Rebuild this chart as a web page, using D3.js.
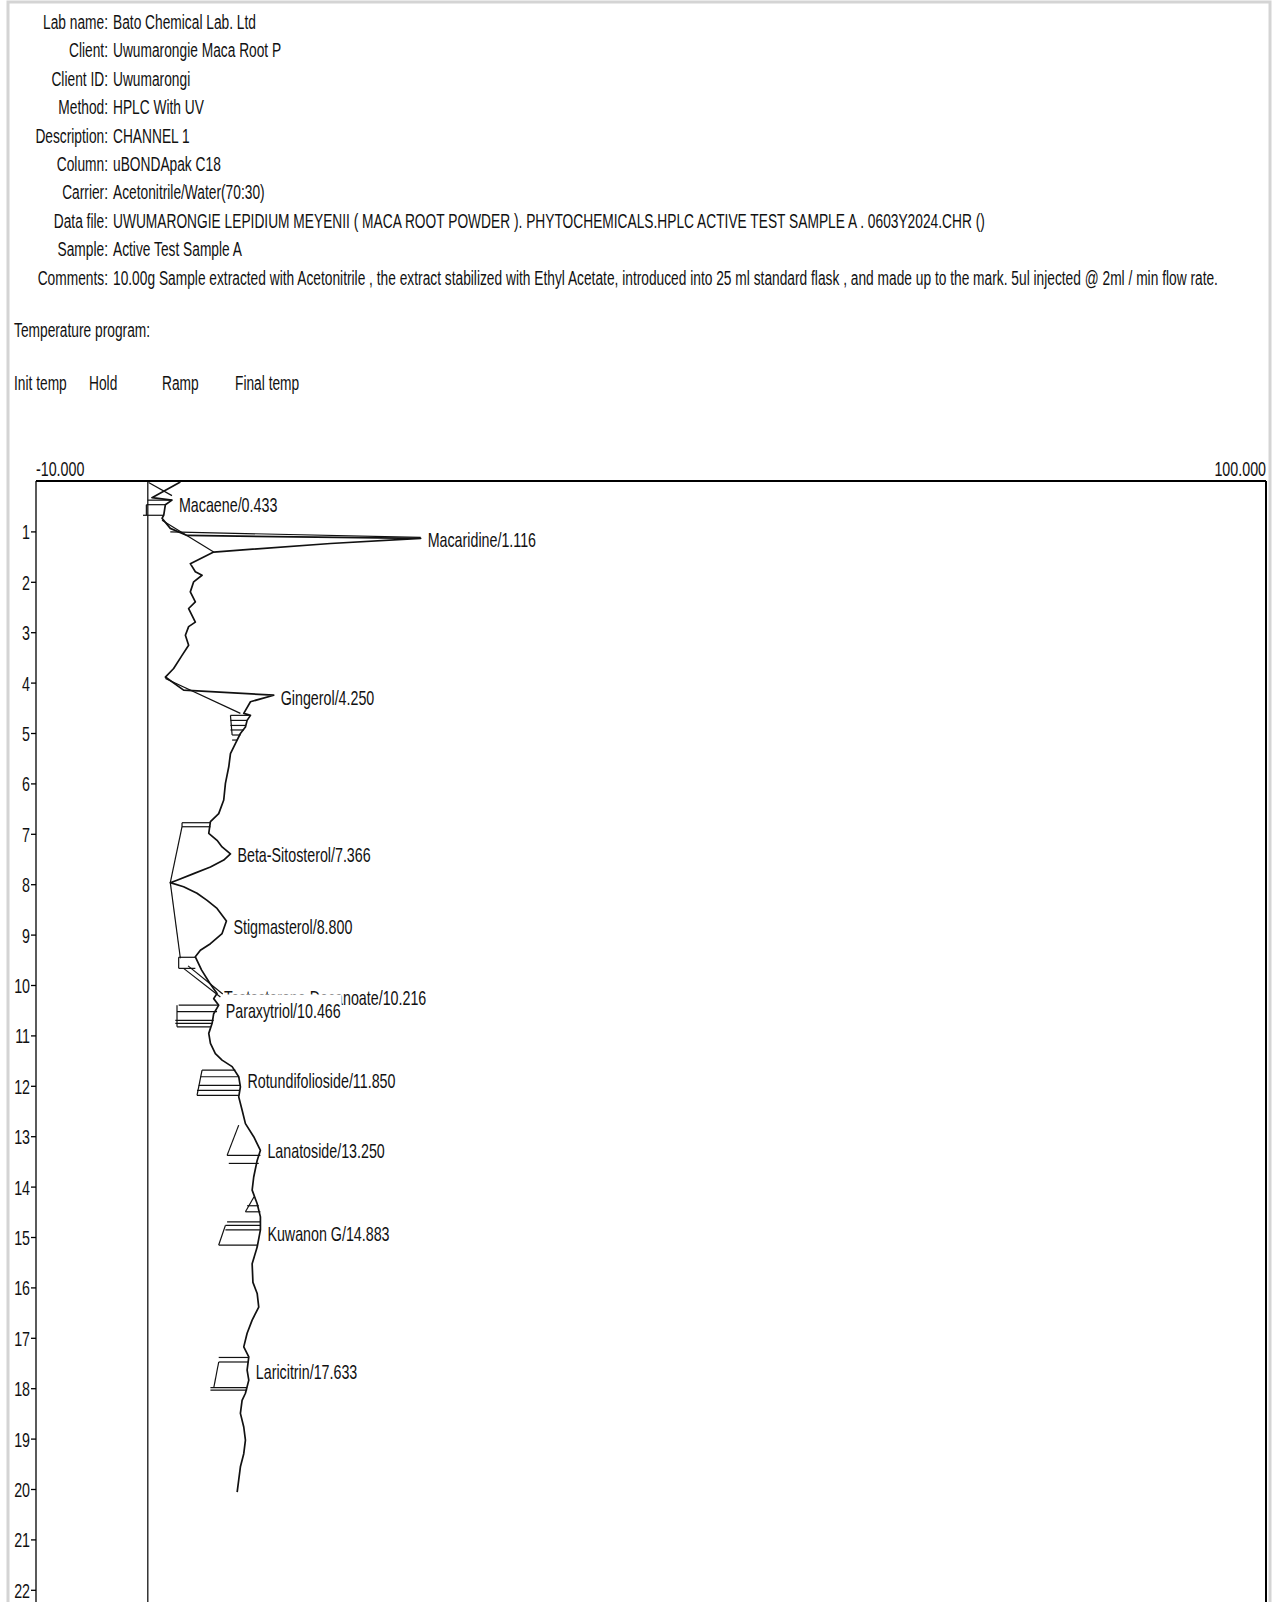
<!DOCTYPE html>
<html>
<head>
<meta charset="utf-8">
<script src="https://cdn.jsdelivr.net/npm/d3@7"></script>
<style>
  body { margin: 0; background: #fff; }
  svg { display: block; }
  text { font-family: "Liberation Sans", Arial, sans-serif; fill: #111; }
</style>
</head>
<body>
<svg width="1272" height="1602"></svg>
<script>
// ---- data ----
const headerLabels = ["Lab name:", "Client:", "Client ID:", "Method:", "Description:", "Column:", "Carrier:", "Data file:", "Sample:", "Comments:"]
const headerValues = [
  "Bato Chemical Lab. Ltd",
  "Uwumarongie Maca Root P",
  "Uwumarongi",
  "HPLC With UV",
  "CHANNEL 1",
  "uBONDApak C18",
  "Acetonitrile/Water(70:30)",
  "UWUMARONGIE LEPIDIUM MEYENII ( MACA ROOT POWDER ). PHYTOCHEMICALS.HPLC ACTIVE TEST SAMPLE A . 0603Y2024.CHR ()",
  "Active Test Sample A",
  "10.00g Sample extracted with Acetonitrile , the extract stabilized with Ethyl Acetate, introduced into 25 ml standard flask , and made up to the mark. 5ul injected @ 2ml / min flow rate."
]
const tempTitle = "Temperature program:"
const tempColumns = ["Init temp", "Hold", "Ramp", "Final temp"]

const signalRange = [-10, 100]
const signalLabels = ["-10.000", "100.000"]
const timeTicks = [1, 2, 3, 4, 5, 6, 7, 8, 9, 10, 11, 12, 13, 14, 15, 16, 17, 18, 19, 20, 21, 22]

// trace: retention time (min) and detector signal
const traceTime = [0.02, 0.33, 0.38, 0.47, 0.68, 0.74, 0.94, 1.08, 1.14, 1.24, 1.41, 1.64, 1.80, 1.87, 2.00, 2.20, 2.40, 2.53, 2.80, 2.89,
  3.06, 3.26, 3.46, 3.72, 3.89, 4.15, 4.25, 4.38, 4.61, 4.65, 4.75, 4.88, 5.01, 5.21, 5.41, 5.67, 6.00, 6.33, 6.60, 6.76,
  6.99, 7.13, 7.26, 7.40, 7.52, 7.66, 7.79, 7.92, 7.97, 8.05, 8.18, 8.32, 8.48, 8.73, 8.98, 9.18, 9.31, 9.44, 9.70, 9.95,
  10.17, 10.27, 10.40, 10.57, 10.76, 10.96, 11.16, 11.36, 11.49, 11.62, 11.82, 12.02, 12.22, 12.48, 12.75, 13.01, 13.28, 13.48, 13.81, 14.07,
  14.34, 14.60, 14.86, 15.20, 15.53, 15.90, 16.12, 16.39, 16.65, 16.91, 17.18, 17.38, 17.64, 17.84, 18.10, 18.24, 18.50, 18.77, 19.03, 19.30,
  19.56, 19.82, 20.06]
const traceSignal = [2.91, 0.37, 2.16, 1.57, 1.42, 1.27, 2.01, 3.51, 24.4, 16.34, 5.89, 3.80, 4.25, 4.85, 4.10, 3.80, 4.25, 3.65, 4.25, 3.65,
  3.36, 3.65, 3.06, 2.31, 1.57, 3.20, 11.26, 9.18, 8.58, 9.18, 8.88, 8.73, 8.28, 7.83, 7.39, 7.24, 6.94, 6.79, 6.34, 5.60,
  5.45, 6.19, 6.64, 7.39, 6.79, 5.60, 4.10, 2.61, 2.01, 3.20, 4.40, 5.30, 6.19, 7.03, 6.64, 5.60, 4.70, 4.25, 4.80, 5.50,
  6.19, 5.89, 6.34, 5.89, 5.75, 5.45, 5.60, 6.04, 6.64, 7.54, 8.13, 8.28, 8.13, 8.43, 8.73, 9.47, 10.07, 9.78, 9.47, 9.33,
  9.78, 10.07, 10.07, 9.78, 9.33, 9.40, 9.78, 9.92, 9.33, 8.88, 8.58, 9.03, 8.88, 9.03, 8.73, 8.43, 8.28, 8.58, 8.73, 8.58,
  8.28, 8.13, 7.99]

// integration baselines / peak marks: [t1, signal1, t2, signal2]
const baseSegments = [
  [0.03, 0.07, 0.29, 2.16], [0.38, 0.00, 0.38, 2.16],
  [0.47, -0.13, 0.47, 1.57], [0.68, -0.43, 0.68, 1.42], [0.47, -0.13, 0.68, -0.13],
  [0.78, 1.27, 1.41, 5.89], [1.01, 2.01, 1.12, 24.4],
  [3.92, 1.57, 4.61, 8.28],
  [4.65, 7.39, 4.65, 9.03], [4.75, 7.39, 4.75, 8.88], [4.85, 7.39, 4.85, 8.73], [4.94, 7.39, 4.94, 8.58],
  [5.04, 7.54, 5.04, 8.28], [5.14, 7.54, 5.14, 7.99], [4.65, 7.39, 5.04, 7.54],
  [6.78, 3.06, 6.78, 5.60], [6.86, 3.06, 6.86, 5.60], [6.78, 3.06, 6.86, 3.06],
  [6.86, 3.06, 7.97, 2.01], [7.97, 2.01, 9.47, 2.91],
  [9.45, 2.76, 9.45, 4.25], [9.67, 2.76, 9.67, 4.25], [9.45, 2.76, 9.67, 2.76],
  [9.67, 3.20, 10.24, 6.49], [9.62, 3.60, 10.18, 6.70],
  [10.40, 2.76, 10.40, 6.34], [10.53, 2.61, 10.53, 6.19], [10.70, 2.46, 10.70, 5.89], [10.76, 2.46, 10.76, 5.75],
  [10.83, 2.61, 10.83, 5.60], [10.40, 2.61, 10.83, 2.61],
  [11.69, 4.85, 11.69, 7.83], [11.82, 4.70, 11.82, 8.13], [11.99, 4.55, 11.99, 8.28], [12.09, 4.40, 12.09, 8.20],
  [12.19, 4.40, 12.19, 8.13], [11.69, 4.85, 12.19, 4.40],
  [12.78, 8.13, 13.38, 7.09], [13.38, 7.09, 13.38, 10.07], [13.54, 7.24, 13.54, 9.92],
  [14.20, 9.50, 14.50, 8.73], [14.38, 8.88, 14.38, 9.92], [14.50, 8.73, 14.50, 10.07],
  [14.70, 7.09, 14.70, 10.07], [14.77, 6.94, 14.77, 10.07], [14.86, 6.94, 14.86, 10.07],
  [15.16, 6.34, 15.16, 9.78], [15.16, 6.34, 14.77, 6.94],
  [17.39, 6.34, 17.39, 9.03], [17.48, 6.34, 17.48, 9.03], [17.99, 5.60, 17.99, 8.88], [18.04, 5.60, 18.04, 8.88],
  [17.48, 6.34, 17.99, 5.90]
]

const peakNames = ["Macaene", "Macaridine", "Gingerol", "Beta-Sitosterol", "Stigmasterol", "Testosterone Decanoate",
  "Paraxytriol", "Rotundifolioside", "Lanatoside", "Kuwanon G", "Laricitrin"]
const peakTimes = [0.433, 1.116, 4.250, 7.366, 8.800, 10.216, 10.466, 11.850, 13.250, 14.883, 17.633]
const peakHeights = [2.16, 24.4, 11.26, 7.39, 7.03, 6.19, 6.34, 8.28, 10.07, 10.07, 9.03]

// ---- layout ----
const svg = d3.select("svg")
const fontSize = 21
const squeeze = 0.68        // the report font is a narrow face
const headSqueeze = 0.655

const plot = { left: 36, right: 1266, top: 481, minPx: 50.4 }

function putText(g, x, y, str, anchor, sq) {
  return g.append("text")
    .attr("transform", `translate(${x},${y}) scale(${sq || squeeze},1)`)
    .attr("text-anchor", anchor || "start")
    .attr("font-size", fontSize)
    .text(str)
}

// window frame
svg.append("rect")
  .attr("x", 8).attr("y", 2).attr("width", 1262).attr("height", 1610)
  .attr("fill", "none").attr("stroke", "#d4d4d4").attr("stroke-width", 3)

// header block
const head = svg.append("g")
headerLabels.forEach((lab, i) => {
  const yy = 29 + i * 28.4
  putText(head, 108, yy, lab, "end", headSqueeze)
  putText(head, 113, yy, headerValues[i], "start", headSqueeze)
})
putText(head, 14, 337, tempTitle, "start", headSqueeze)
const tempX = [14, 89, 162, 235]
tempColumns.forEach((c, i) => putText(head, tempX[i], 390, c, "start", headSqueeze))

// scales
const x = d3.scaleLinear().domain(signalRange).range([plot.left, plot.right])
const y = d3.scaleLinear().domain([0, 23]).range([plot.top, plot.top + 23 * plot.minPx])

const g = svg.append("g")

// plot frame
g.append("line").attr("x1", plot.left).attr("x2", plot.right).attr("y1", plot.top).attr("y2", plot.top)
  .attr("stroke", "#000").attr("stroke-width", 2)
g.append("line").attr("x1", plot.left).attr("x2", plot.left).attr("y1", plot.top).attr("y2", 1602)
  .attr("stroke", "#000").attr("stroke-width", 1.3)
g.append("line").attr("x1", plot.right).attr("x2", plot.right).attr("y1", plot.top).attr("y2", 1602)
  .attr("stroke", "#000").attr("stroke-width", 2)
// zero line
g.append("line").attr("x1", x(0)).attr("x2", x(0)).attr("y1", plot.top).attr("y2", 1602)
  .attr("stroke", "#000").attr("stroke-width", 1.2)

// signal range labels on top
putText(g, x(signalRange[0]), plot.top - 5, signalLabels[0], "start")
putText(g, x(signalRange[1]), plot.top - 5, signalLabels[1], "end")

// time axis
const yAxis = d3.axisLeft(y).tickValues(timeTicks).tickSize(5).tickSizeOuter(0).tickFormat(d3.format("d"))
const yAxisG = g.append("g").attr("transform", `translate(${plot.left},0)`).call(yAxis)
yAxisG.select(".domain").remove()
yAxisG.selectAll("line").attr("stroke", "#000").attr("stroke-width", 1.3)
yAxisG.selectAll("text")
  .attr("font-size", fontSize).attr("font-family", null).attr("fill", "#111")
  .attr("x", -6 / squeeze).attr("dy", "0.36em")
  .attr("transform", `scale(${squeeze},1)`)

// integration marks
g.append("g").selectAll("line").data(baseSegments).enter().append("line")
  .attr("x1", d => x(d[1])).attr("y1", d => y(d[0]))
  .attr("x2", d => x(d[3])).attr("y2", d => y(d[2]))
  .attr("stroke", "#111").attr("stroke-width", 1.2)

// trace
const pts = traceTime.map((t, i) => [t, traceSignal[i]])
g.append("path").datum(pts)
  .attr("fill", "none").attr("stroke", "#111").attr("stroke-width", 1.7)
  .attr("stroke-linejoin", "round")
  .attr("d", d3.line().x(d => x(d[1])).y(d => y(d[0])))

// peak labels (white boxed, drawn in order so later ones cover earlier)
const labG = g.append("g")
peakNames.forEach((n, i) => {
  const lx = x(peakHeights[i]) + 7
  const ly = y(peakTimes[i]) + 9.5
  const str = n + "/" + peakTimes[i].toFixed(3)
  const t = putText(labG, lx, ly, str)
  const w = t.node().getComputedTextLength() * squeeze
  labG.insert("rect", () => t.node())
    .attr("x", lx - 1).attr("y", ly - fontSize * 1.12)
    .attr("width", w + 2).attr("height", fontSize * 1.35)
    .attr("fill", "#fff")
})
</script>
</body>
</html>
